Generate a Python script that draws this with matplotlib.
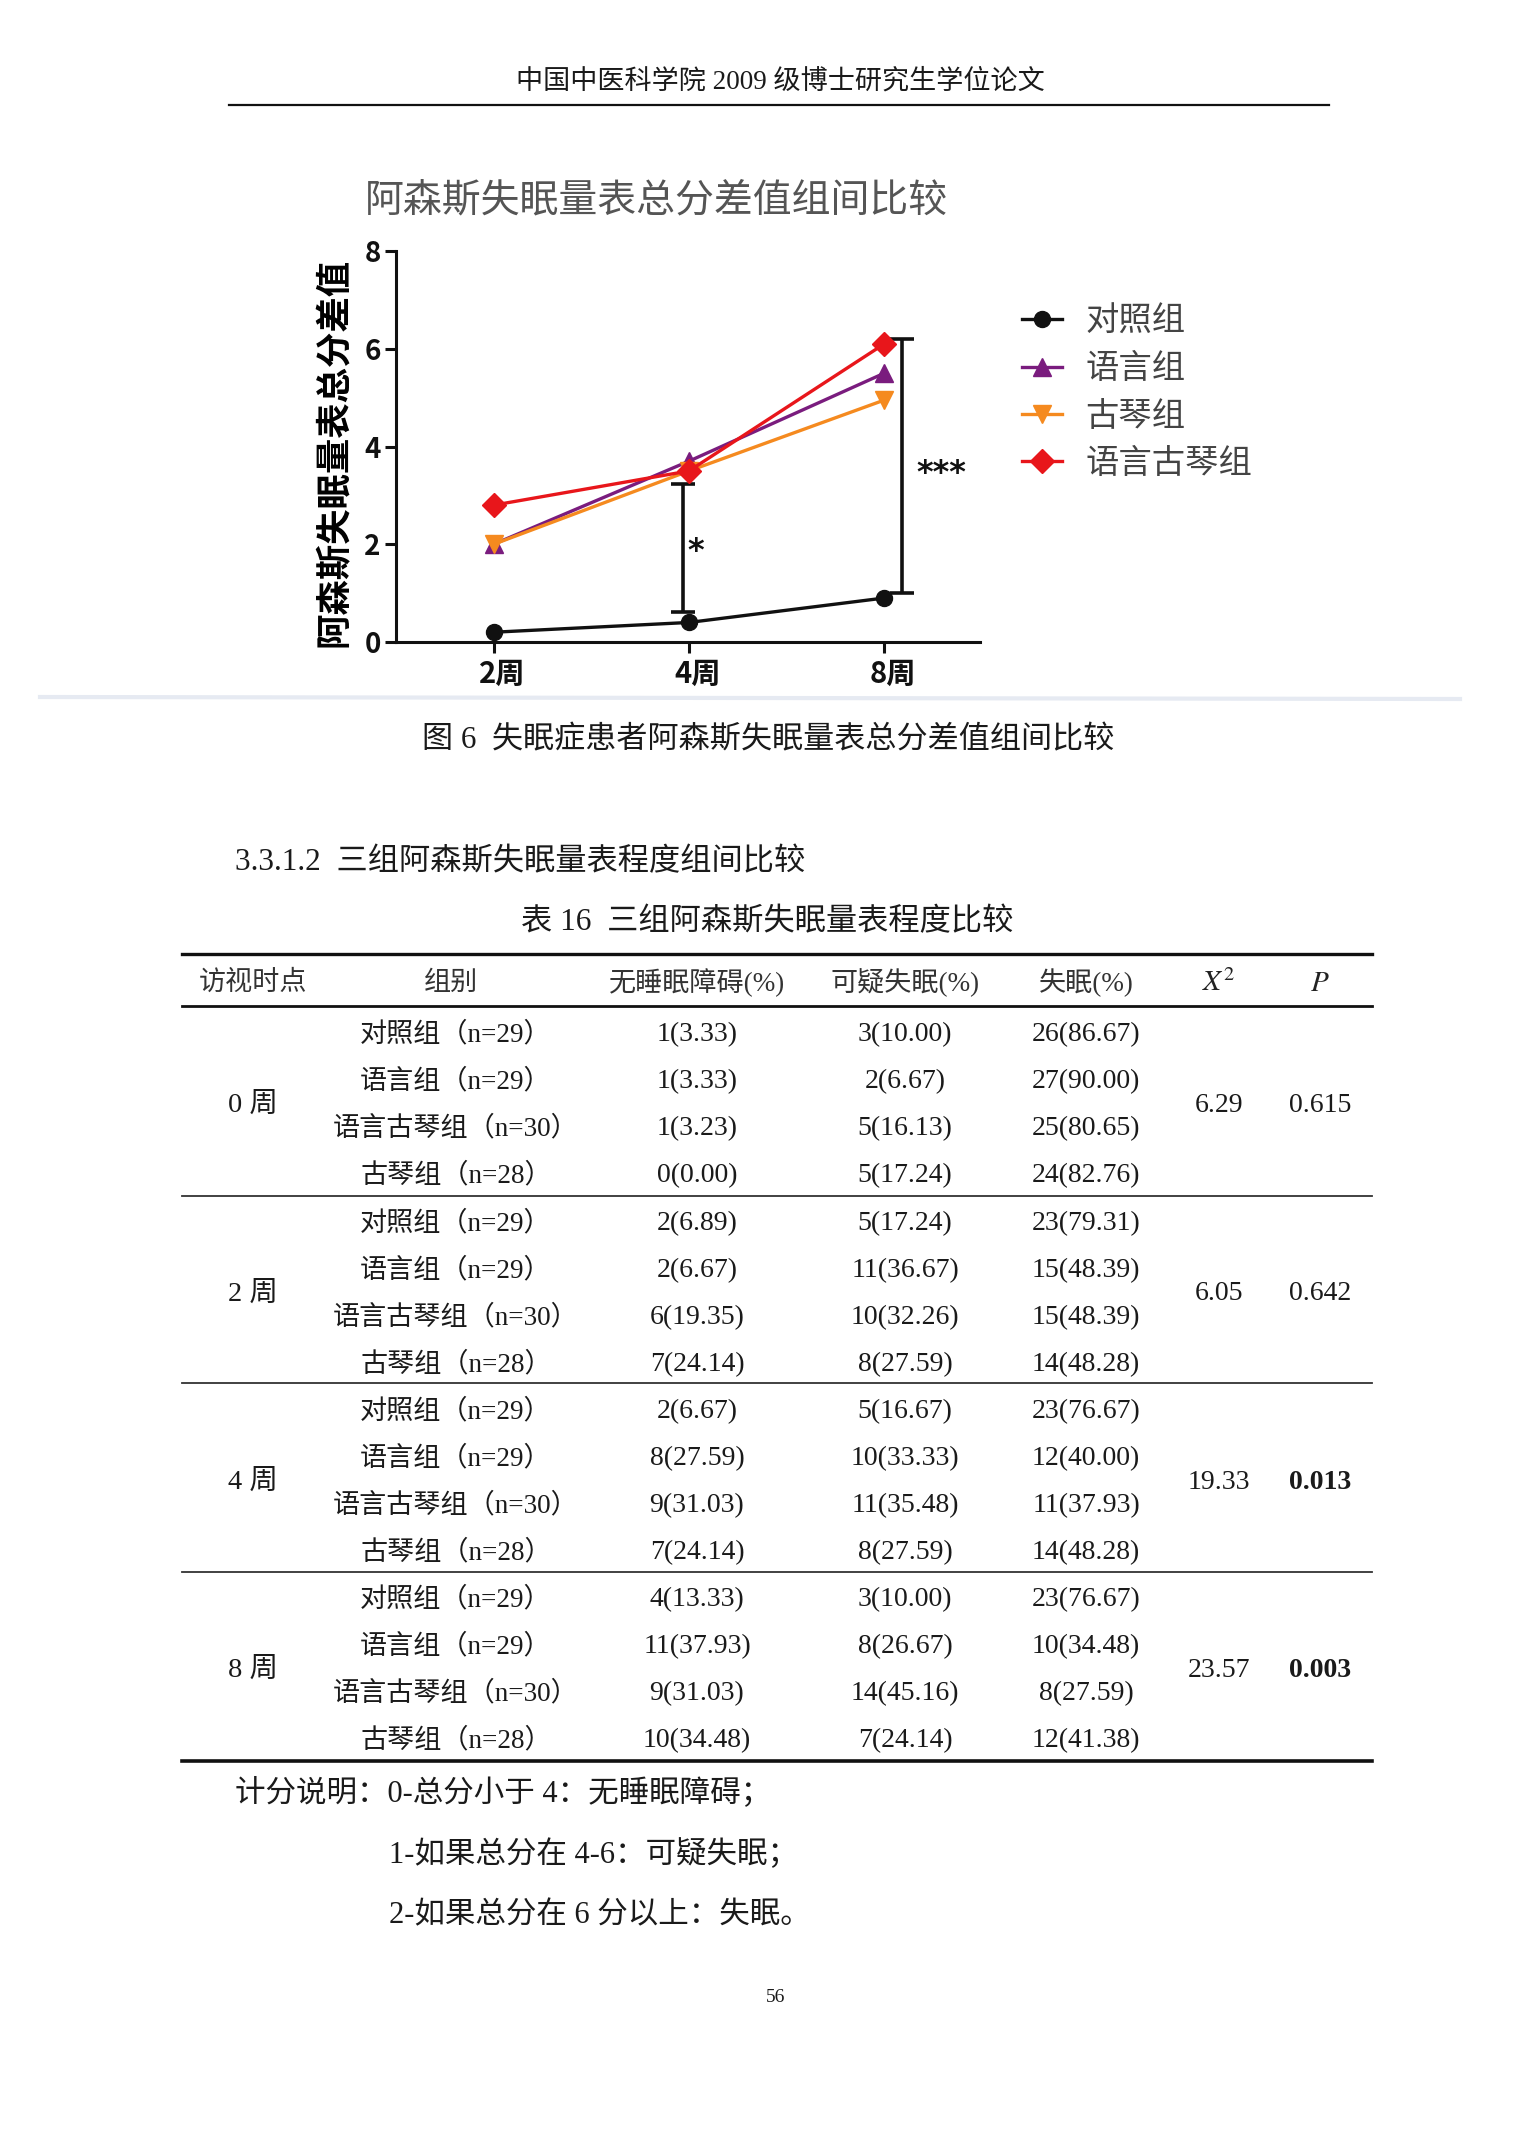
import matplotlib
matplotlib.use("Agg")
import matplotlib.pyplot as plt
from matplotlib.lines import Line2D
import matplotlib.transforms as mtransforms

plt.rcParams['font.family'] = ['Noto Sans CJK SC', 'DejaVu Sans']
plt.rcParams['mathtext.fontset'] = 'stix'

# ---------------- chart data ----------------
weeks = ['2周', '4周', '8周']
series_names = ['对照组', '语言组', '古琴组', '语言古琴组']
control = [0.2, 0.4, 0.9]
language = [2.0, 3.7, 5.5]
guqin = [2.0, 3.5, 4.95]
lang_guqin = [2.8, 3.5, 6.1]
series_colors = ['#111111', '#7a1c7e', '#f58a1f', '#e8161b']
series_markers = ['o', '^', 'v', 'D']

# significance brackets: (x position, low, high, label)
sig_x = [0.97, 2.09]
sig_low = [0.61, 1.01]
sig_high = [3.23, 6.19]
sig_labels = ['*', '***']
sig_label_x = [1.035, 2.29]
sig_label_y = [1.85, 3.45]

# ---------------- table data ----------------
visits = ['0 周', '2 周', '4 周', '8 周']
groups = ['对照组（n=29）', '语言组（n=29）', '语言古琴组（n=30）', '古琴组（n=28）']
no_disorder = [['1(3.33)', '1(3.33)', '1(3.23)', '0(0.00)'],
               ['2(6.89)', '2(6.67)', '6(19.35)', '7(24.14)'],
               ['2(6.67)', '8(27.59)', '9(31.03)', '7(24.14)'],
               ['4(13.33)', '11(37.93)', '9(31.03)', '10(34.48)']]
suspect = [['3(10.00)', '2(6.67)', '5(16.13)', '5(17.24)'],
           ['5(17.24)', '11(36.67)', '10(32.26)', '8(27.59)'],
           ['5(16.67)', '10(33.33)', '11(35.48)', '8(27.59)'],
           ['3(10.00)', '8(26.67)', '14(45.16)', '7(24.14)']]
insomnia = [['26(86.67)', '27(90.00)', '25(80.65)', '24(82.76)'],
            ['23(79.31)', '15(48.39)', '15(48.39)', '14(48.28)'],
            ['23(76.67)', '12(40.00)', '11(37.93)', '14(48.28)'],
            ['23(76.67)', '10(34.48)', '8(27.59)', '12(41.38)']]
chi2 = ['6.29', '6.05', '19.33', '23.57']
pvals = ['0.615', '0.642', '0.013', '0.003']
p_bold = [False, False, True, True]
headers = ['访视时点', '组别', '无睡眠障碍(%)', '可疑失眠(%)', '失眠(%)']

W, H = 1513, 2141
fig = plt.figure(figsize=(W / 100, H / 100), dpi=100)
fig.patch.set_facecolor('white')


def fx(x):
    return x / W


def fy(y):
    return 1 - y / H


SERIF = ['Liberation Serif', 'Noto Sans CJK SC']
TXT = '#1a1a1a'

# ---------------- page header ----------------
fig.text(fx(780), fy(82), '中国中医科学院 2009 级博士研究生学位论文', ha='center', va='center',
         fontsize=19.5, family=SERIF, color=TXT)
fig.add_artist(Line2D([fx(229), fx(1329)], [fy(105), fy(105)], color='#111111', lw=1.6))

# ---------------- chart ----------------
ax = fig.add_axes([fx(396), fy(642), (980 - 396) / W, (642 - 251) / H])
xs = list(range(len(weeks)))
ms_map = {'o': 11.5, 'D': 12, '^': 13, 'v': 13}
for vals, name, c, m in zip([control, language, guqin, lang_guqin], series_names,
                            series_colors, series_markers):
    ax.plot(xs, vals, color=c, marker=m, ms=ms_map[m], lw=2.4, label=name, zorder=3)

for x, lo, hi in zip(sig_x, sig_low, sig_high):
    ax.vlines(x, lo, hi, color='#111111', lw=2.6, zorder=2)
    ax.hlines([lo, hi], x - 0.06, x + 0.06, color='#111111', lw=2.6, zorder=2)
for lab, lx, ly in zip(sig_labels, sig_label_x, sig_label_y):
    ax.text(lx, ly, lab, ha='center', va='center', fontsize=23, fontweight='bold',
            family='DejaVu Sans', color='#111111')

ax.set_xlim(-0.5, 2.49)
ax.set_ylim(0, 8)
ax.set_yticks([0, 2, 4, 6, 8])
ax.set_xticks(xs)
ax.set_xticklabels(weeks)
for s in ['top', 'right']:
    ax.spines[s].set_visible(False)
for s in ['left', 'bottom']:
    ax.spines[s].set_linewidth(2.2)
    ax.spines[s].set_color('#111111')
ax.tick_params(axis='y', width=2.2, length=8, direction='out', pad=3,
               labelsize=20, colors='#111111')
ax.tick_params(axis='x', width=2.2, length=8, direction='out', pad=4,
               labelsize=21, colors='#111111')
shift = mtransforms.ScaledTranslation(0.09, 0, fig.dpi_scale_trans)
for lbl in ax.get_xticklabels():
    lbl.set_fontweight('bold')
    lbl.set_transform(lbl.get_transform() + shift)
for lbl in ax.get_yticklabels():
    lbl.set_fontweight('bold')
ax.set_ylabel('阿森斯失眠量表总分差值', fontsize=25.5, fontweight='bold', va='center')
ax.yaxis.set_label_coords(-0.105, 0.485)
ax.patch.set_alpha(0)

fig.text(fx(656), fy(200), '阿森斯失眠量表总分差值组间比较', ha='center', va='center',
         fontsize=28, color='#555555')

leg = ax.legend(loc='upper left', bbox_to_anchor=(fx(1022), fy(304)),
                bbox_transform=fig.transFigure, frameon=False, fontsize=24,
                handlelength=1.2, handletextpad=0.7, labelspacing=0.37,
                borderpad=0, borderaxespad=0)
for t in leg.get_texts():
    t.set_color('#444444')

# faint scan line
fig.add_artist(Line2D([fx(40), fx(1460)], [fy(697), fy(699)], color='#e6eaf2', lw=3))

# ---------------- caption & headings ----------------
fig.text(fx(768), fy(741), '图 6  失眠症患者阿森斯失眠量表总分差值组间比较', ha='center', va='center',
         fontsize=22.4, family=SERIF, color=TXT)
fig.text(fx(235), fy(863), '3.3.1.2  三组阿森斯失眠量表程度组间比较', ha='left', va='center',
         fontsize=22.5, family=SERIF, color=TXT)
fig.text(fx(767), fy(923), '表 16  三组阿森斯失眠量表程度比较', ha='center', va='center',
         fontsize=22.5, family=SERIF, color=TXT)

# ---------------- table ----------------
x0, x1 = 182, 1372
fig.add_artist(Line2D([fx(x0), fx(x1)], [fy(954), fy(954)], color='#111111', lw=2.4))
fig.add_artist(Line2D([fx(x0), fx(x1)], [fy(1006), fy(1006)], color='#111111', lw=2.0))
for yy in [1196, 1383, 1572]:
    fig.add_artist(Line2D([fx(x0), fx(x1)], [fy(yy), fy(yy)], color='#333333', lw=1.3))
fig.add_artist(Line2D([fx(x0), fx(x1)], [fy(1761), fy(1761)], color='#111111', lw=2.6))

col_x = [253, 451, 697, 905, 1086, 1219, 1320]
group_x = 456
for h, cx in zip(headers, col_x[:5]):
    fig.text(fx(cx), fy(983), h, ha='center', va='center', fontsize=19.5, family=SERIF,
             color='#333333')
fig.text(fx(col_x[5]), fy(983), r'$X^{2}$', ha='center', va='center', fontsize=21, color='#222222')
fig.text(fx(col_x[6]), fy(983), r'$P$', ha='center', va='center', fontsize=21, color='#222222')

for g in range(4):
    base = 1035 + g * 188.3
    for r in range(4):
        yy = base + r * 47
        fig.text(fx(group_x), fy(yy), groups[r], ha='center', va='center', fontsize=19.5,
                 family=SERIF, color=TXT)
        for ci, arr in zip([2, 3, 4], [no_disorder, suspect, insomnia]):
            fig.text(fx(col_x[ci]), fy(yy), arr[g][r], ha='center', va='center', fontsize=20,
                     family=SERIF, color=TXT)
    ymid = base + 1.5 * 47
    fig.text(fx(col_x[0]), fy(ymid), visits[g], ha='center', va='center', fontsize=20.5,
             family=SERIF, color=TXT)
    fig.text(fx(col_x[5]), fy(ymid), chi2[g], ha='center', va='center', fontsize=20,
             family=SERIF, color=TXT)
    fig.text(fx(col_x[6]), fy(ymid), pvals[g], ha='center', va='center', fontsize=20,
             family=SERIF, color=TXT, fontweight='bold' if p_bold[g] else 'normal')

# ---------------- footnote ----------------
fig.text(fx(235), fy(1793), '计分说明：0-总分小于 4：无睡眠障碍；', ha='left', va='center',
         fontsize=22, family=SERIF, color=TXT)
fig.text(fx(389), fy(1855), '1-如果总分在 4-6：可疑失眠；', ha='left', va='center',
         fontsize=22, family=SERIF, color=TXT)
fig.text(fx(389), fy(1916), '2-如果总分在 6 分以上：失眠。', ha='left', va='center',
         fontsize=22, family=SERIF, color=TXT)
fig.text(fx(776), fy(1998), '56', ha='center', va='center', fontsize=14, family=SERIF, color=TXT)

fig.savefig('out.png', dpi=100, facecolor='white')
